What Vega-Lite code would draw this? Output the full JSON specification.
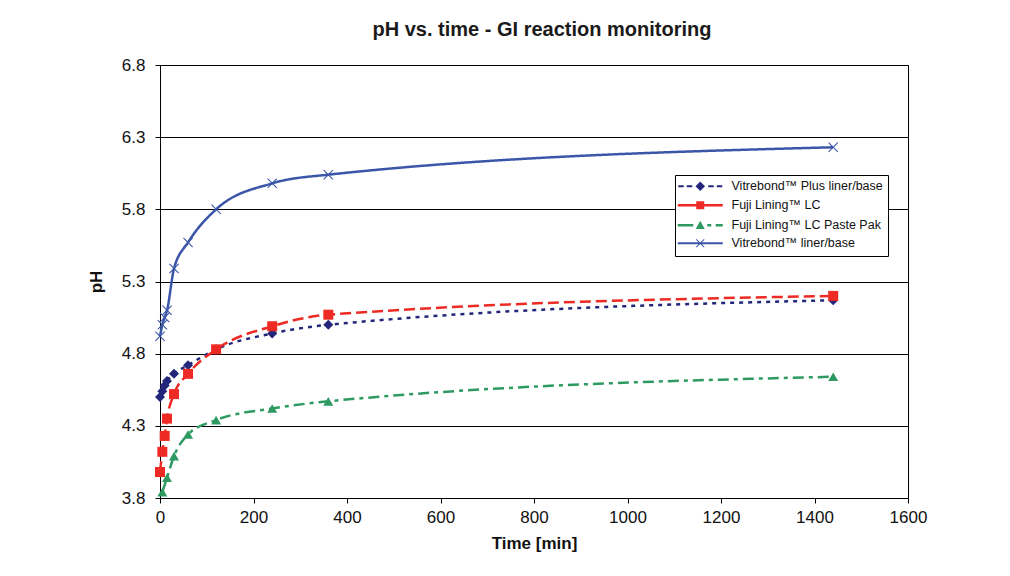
{
  "$schema": "https://vega.github.io/schema/vega-lite/v6.json",
  "width": 748,
  "height": 433,
  "autosize": "none",
  "padding": {"left": 160, "top": 65, "right": 102, "bottom": 78},
  "background": "white",
  "title": {"text": "pH vs. time - GI reaction monitoring", "font": "Liberation Sans", "fontSize": 20, "fontWeight": "bold", "color": "#1a1a1a", "offset": 16, "dx": 8},
  "config": {
    "view": {"stroke": "black", "strokeWidth": 1},
    "axis": {"labelFont": "Liberation Sans", "titleFont": "Liberation Sans", "labelColor": "#111", "titleColor": "#111", "domainColor": "black", "tickColor": "black", "gridColor": "black", "gridOpacity": 1, "gridWidth": 1}
  },
  "resolve": {"scale": {"shape": "independent"}, "legend": {"color": "independent", "shape": "independent", "strokeDash": "independent"}},
  "data": {"values": [
    {"series": "Vitrebond™ Plus liner/base", "time": 0, "pH": 4.50},
    {"series": "Vitrebond™ Plus liner/base", "time": 5, "pH": 4.54},
    {"series": "Vitrebond™ Plus liner/base", "time": 10, "pH": 4.58},
    {"series": "Vitrebond™ Plus liner/base", "time": 15, "pH": 4.61},
    {"series": "Vitrebond™ Plus liner/base", "time": 30, "pH": 4.66},
    {"series": "Vitrebond™ Plus liner/base", "time": 60, "pH": 4.72},
    {"series": "Vitrebond™ Plus liner/base", "time": 120, "pH": 4.83},
    {"series": "Vitrebond™ Plus liner/base", "time": 240, "pH": 4.94},
    {"series": "Vitrebond™ Plus liner/base", "time": 360, "pH": 5.00},
    {"series": "Vitrebond™ Plus liner/base", "time": 1440, "pH": 5.17},
    {"series": "Fuji Lining™ LC", "time": 0, "pH": 3.98},
    {"series": "Fuji Lining™ LC", "time": 5, "pH": 4.12},
    {"series": "Fuji Lining™ LC", "time": 10, "pH": 4.23},
    {"series": "Fuji Lining™ LC", "time": 15, "pH": 4.35},
    {"series": "Fuji Lining™ LC", "time": 30, "pH": 4.52},
    {"series": "Fuji Lining™ LC", "time": 60, "pH": 4.66},
    {"series": "Fuji Lining™ LC", "time": 120, "pH": 4.83},
    {"series": "Fuji Lining™ LC", "time": 240, "pH": 4.99},
    {"series": "Fuji Lining™ LC", "time": 360, "pH": 5.07},
    {"series": "Fuji Lining™ LC", "time": 1440, "pH": 5.20},
    {"series": "Fuji Lining™ LC Paste Pak", "time": 5, "pH": 3.84},
    {"series": "Fuji Lining™ LC Paste Pak", "time": 15, "pH": 3.94},
    {"series": "Fuji Lining™ LC Paste Pak", "time": 30, "pH": 4.09},
    {"series": "Fuji Lining™ LC Paste Pak", "time": 60, "pH": 4.24},
    {"series": "Fuji Lining™ LC Paste Pak", "time": 120, "pH": 4.34},
    {"series": "Fuji Lining™ LC Paste Pak", "time": 240, "pH": 4.42},
    {"series": "Fuji Lining™ LC Paste Pak", "time": 360, "pH": 4.47},
    {"series": "Fuji Lining™ LC Paste Pak", "time": 1440, "pH": 4.64},
    {"series": "Vitrebond™ liner/base", "time": 0, "pH": 4.92},
    {"series": "Vitrebond™ liner/base", "time": 5, "pH": 5.00},
    {"series": "Vitrebond™ liner/base", "time": 10, "pH": 5.05},
    {"series": "Vitrebond™ liner/base", "time": 15, "pH": 5.10},
    {"series": "Vitrebond™ liner/base", "time": 30, "pH": 5.39},
    {"series": "Vitrebond™ liner/base", "time": 60, "pH": 5.57},
    {"series": "Vitrebond™ liner/base", "time": 120, "pH": 5.80},
    {"series": "Vitrebond™ liner/base", "time": 240, "pH": 5.98},
    {"series": "Vitrebond™ liner/base", "time": 360, "pH": 6.04},
    {"series": "Vitrebond™ liner/base", "time": 1440, "pH": 6.23}
  ]},
  "encoding": {
    "x": {"field": "time", "type": "quantitative", "scale": {"domain": [0, 1600], "nice": false, "zero": false},
      "axis": {"title": "Time [min]", "values": [0, 200, 400, 600, 800, 1000, 1200, 1400, 1600], "format": "d", "grid": false, "labelFontSize": 17, "titleFontSize": 17, "titleFontWeight": "bold", "tickSize": 5, "labelPadding": 6, "titlePadding": 10, "labelFlush": false}},
    "y": {"field": "pH", "type": "quantitative", "scale": {"domain": [3.8, 6.8], "nice": false, "zero": false},
      "axis": {"title": "pH", "values": [3.8, 4.3, 4.8, 5.3, 5.8, 6.3, 6.8], "format": ".1f", "grid": true, "labelFontSize": 17, "titleFontSize": 17, "titleFontWeight": "bold", "tickSize": 5, "labelPadding": 10, "titlePadding": 16}}
  },
  "layer": [
    {
      "mark": {"type": "line", "interpolate": "monotone", "strokeWidth": 2.5},
      "encoding": {
        "color": {"field": "series", "type": "nominal", "legend": null,
          "scale": {"domain": ["Vitrebond™ Plus liner/base", "Fuji Lining™ LC", "Fuji Lining™ LC Paste Pak", "Vitrebond™ liner/base"], "range": ["#23267a", "#ee2a24", "#2e9a62", "#3b56a9"]}},
        "strokeDash": {"field": "series", "type": "nominal", "legend": null,
          "scale": {"domain": ["Vitrebond™ Plus liner/base", "Fuji Lining™ LC", "Fuji Lining™ LC Paste Pak", "Vitrebond™ liner/base"], "range": [[4, 5], [11, 5], [11, 5, 4, 5], [1, 0]]}}
      }
    },
    {
      "mark": {"type": "point", "filled": true, "size": 100, "opacity": 1},
      "encoding": {
        "color": {"field": "series", "type": "nominal", "legend": null,
          "scale": {"domain": ["Vitrebond™ Plus liner/base", "Fuji Lining™ LC", "Fuji Lining™ LC Paste Pak", "Vitrebond™ liner/base"], "range": ["#23267a", "#ee2a24", "#2e9a62", "#3b56a9"]}},
        "shape": {"field": "series", "type": "nominal", "legend": null,
          "scale": {"domain": ["Vitrebond™ Plus liner/base", "Fuji Lining™ LC", "Fuji Lining™ LC Paste Pak", "Vitrebond™ liner/base"], "range": ["diamond", "square", "triangle-up", "M-1,-0.85L-0.85,-1L0,-0.15L0.85,-1L1,-0.85L0.15,0L1,0.85L0.85,1L0,0.15L-0.85,1L-1,0.85L-0.15,0Z"]}}
      }
    },
    {
      "transform": [{"filter": "datum.time < 0"}],
      "mark": {"type": "point", "filled": true, "size": 100, "opacity": 1},
      "encoding": {
        "color": {"field": "series", "type": "nominal",
          "scale": {"domain": ["Vitrebond™ Plus liner/base", "Fuji Lining™ LC", "Fuji Lining™ LC Paste Pak", "Vitrebond™ liner/base"], "range": ["#23267a", "#ee2a24", "#2e9a62", "#3b56a9"]},
          "legend": {"orient": "none", "legendX": 515, "legendY": 110, "title": null, "strokeColor": "black", "fillColor": "white", "padding": 5, "labelFont": "Liberation Sans", "labelFontSize": 12.5, "labelColor": "#111", "rowPadding": 4, "symbolSize": 100, "symbolOpacity": 1, "symbolOffset": 14, "labelOffset": 25}},
        "shape": {"field": "series", "type": "nominal",
          "scale": {"domain": ["Vitrebond™ Plus liner/base", "Fuji Lining™ LC", "Fuji Lining™ LC Paste Pak", "Vitrebond™ liner/base"], "range": [
            "M-4.4,-0.22h1.1v0.44h-1.1Z M-2.7,-0.22h1.1v0.44h-1.1Z M0,-0.95L0.95,0L0,0.95L-0.95,0Z M1.6,-0.22h1.1v0.44h-1.1Z M3.3,-0.22h1.1v0.44h-1.1Z",
            "M-4.5,-0.25H4.5V0.25H-4.5Z M-0.8,-0.8H0.8V0.8H-0.8Z",
            "M-4.5,-0.25H-1.4V0.25H-4.5Z M0,-0.9L0.9,0.75H-0.9Z M1.4,-0.25H2.2V0.25H1.4Z M3.1,-0.25H4.5V0.25H3.1Z",
            "M-4.5,-0.22H4.5V0.22H-4.5Z M-0.85,-0.72L-0.72,-0.85L0,-0.13L0.72,-0.85L0.85,-0.72L0.13,0L0.85,0.72L0.72,0.85L0,0.13L-0.72,0.85L-0.85,0.72L-0.13,0Z"]},
          "legend": {"orient": "none", "legendX": 515, "legendY": 110, "title": null, "strokeColor": "black", "fillColor": "white", "padding": 5, "labelFont": "Liberation Sans", "labelFontSize": 12.5, "labelColor": "#111", "rowPadding": 4, "symbolSize": 100, "symbolOpacity": 1, "symbolOffset": 14, "labelOffset": 25}}
      }
    }
  ]
}
